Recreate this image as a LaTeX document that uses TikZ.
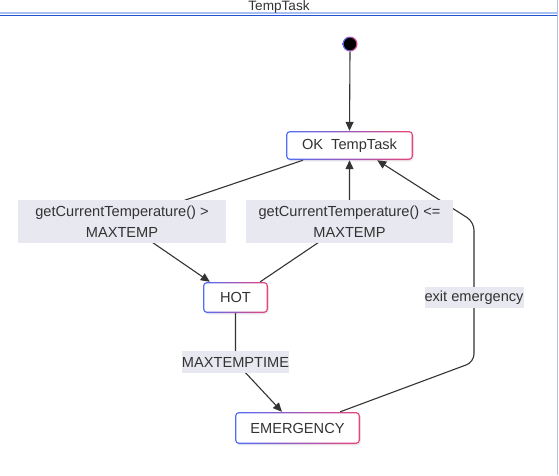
\documentclass[tikz,border=0pt]{standalone}
\usepackage{fontspec}
\setmainfont{Liberation Sans}
\usetikzlibrary{arrows.meta,backgrounds,shadows}
\definecolor{txt}{HTML}{333333}
\definecolor{lbl}{RGB}{232,232,240}
\definecolor{gblue}{HTML}{4F6EF7}
\definecolor{gpink}{HTML}{E8457A}
\definecolor{frameblue}{HTML}{1F50D4}
\definecolor{framelight}{HTML}{A9C0F2}
\begin{document}
\begin{tikzpicture}[x=1pt,y=-1pt, font=\fontsize{14.6}{21}\selectfont, text=txt,
 statebox/.style={rectangle, rounded corners=4pt, left color=gblue, right color=gpink, inner sep=0pt, text=txt,
   drop shadow={opacity=0.12,shadow xshift=1pt,shadow yshift=-1.5pt},
   path picture={\fill[white,rounded corners=3pt] ([shift={(1.3pt,-1.3pt)}]path picture bounding box.north west) rectangle ([shift={(-1.3pt,1.3pt)}]path picture bounding box.south east);}},
 edgelabel/.style={fill=lbl, inner sep=0pt, align=center, text=txt},
 edge/.style={draw=txt, line width=1.1pt},
 arr/.style={-{Triangle[length=9pt,width=8pt]}}]
\useasboundingbox (0,0) rectangle (559,475);

% frame
\draw[framelight, line width=2pt] (0,12.8) -- (557,12.8);
\draw[frameblue, line width=1.6pt] (0,15.3) -- (557,15.3);
\draw[framelight, line width=1.2pt] (557.6,0) -- (557.6,475);
\node[font=\fontsize{13.6}{16}\selectfont] (title) at (279,7) {TempTask};

% states
\node[circle, minimum size=15pt, inner sep=0pt, left color=gblue, right color=gpink,
  path picture={\fill[black] (path picture bounding box.center) circle (6.2pt);}] (init) at (350,44) {};
\node[statebox, minimum width=127pt, minimum height=29pt] (ok) at (349.5,145.5) {OK\ \ TempTask};
\node[statebox, minimum width=65pt, minimum height=31pt] (hot) at (235.5,297.5) {HOT};
\node[statebox, minimum width=125pt, minimum height=32pt] (emg) at (297.5,428) {EMERGENCY};

% edge labels
\node[edgelabel, minimum width=208pt, minimum height=43pt] (l1) at (122,221.5) {getCurrentTemperature() >\\MAXTEMP};
\node[edgelabel, minimum width=207pt, minimum height=43pt] (l2) at (349.5,221.5) {getCurrentTemperature() <=\\MAXTEMP};
\node[edgelabel, minimum width=107pt, minimum height=22pt] (l3) at (235.5,362) {MAXTEMPTIME};
\node[edgelabel, minimum width=98pt, minimum height=21pt] (l4) at (474,297.5) {exit emergency};

\coordinate (c1) at (474,362);
\coordinate (c2) at (474,222);

% edges
\begin{scope}[on background layer]
\draw[edge,arr] (init.south) -- (ok.north);
\draw[edge,arr] ([xshift=-46.5pt]ok.south) -- (l1.center) -- ([xshift=7pt]hot.north west);
\draw[edge,arr] ([xshift=-8pt]hot.north east) -- (l2.center) -- (ok.south);
\draw[edge,arr] (hot.south) -- (l3.center) -- ([xshift=-15.5pt]emg.north);
\draw[edge,arr,rounded corners=8pt] ([xshift=-20pt]emg.north east) -- (c1) -- (c2) -- ([xshift=-36pt]ok.south east);
\end{scope}
\end{tikzpicture}
\end{document}
